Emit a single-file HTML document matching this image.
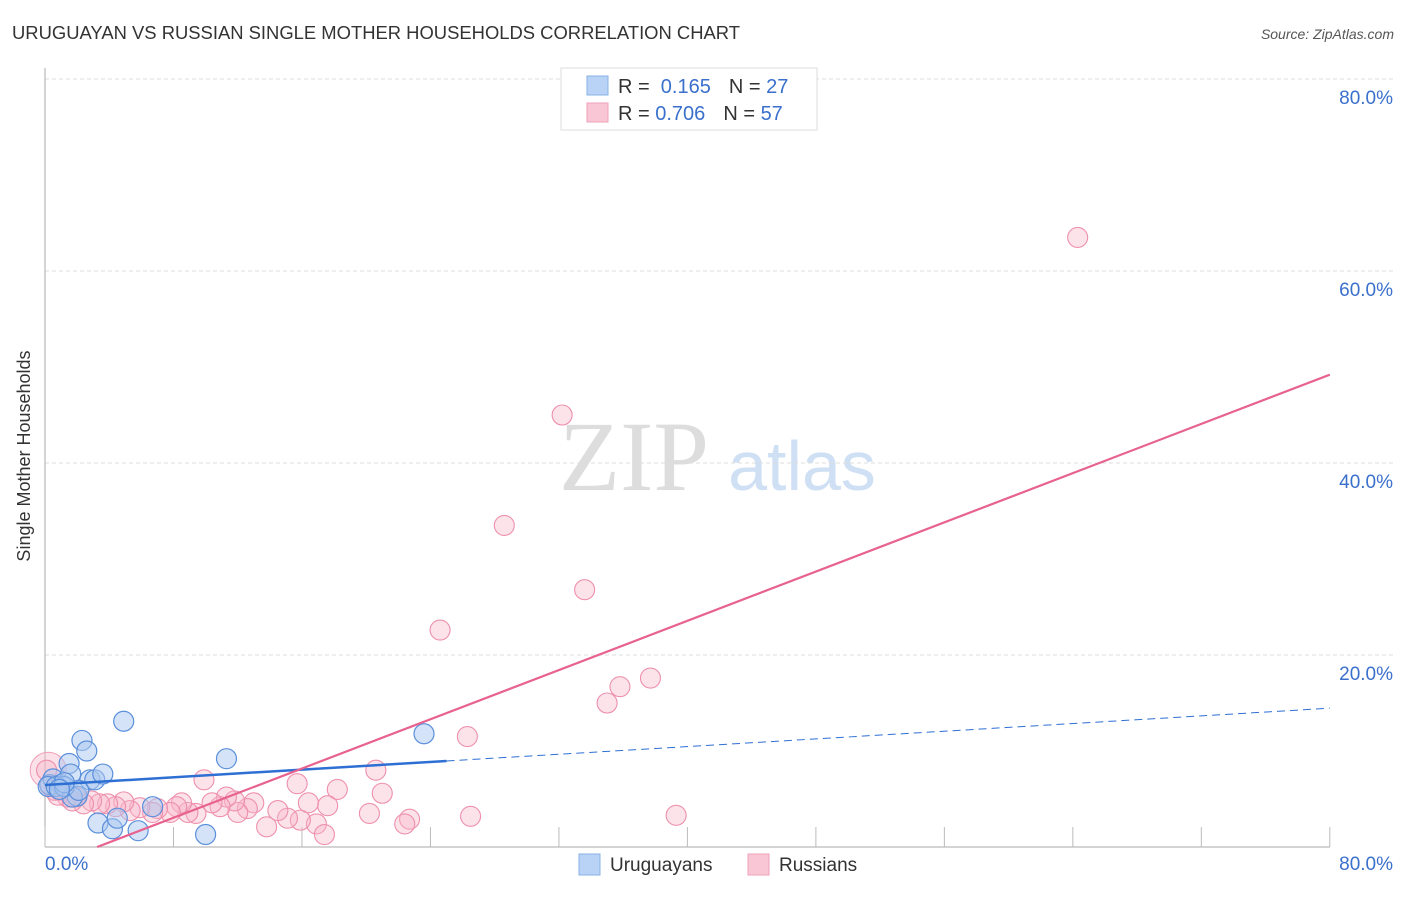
<!DOCTYPE html>
<html><head><meta charset="utf-8"><style>
body{margin:0;background:#fff;font-family:"Liberation Sans",sans-serif;}
</style></head><body>
<svg id="c" width="1406" height="892" style="font-family:'Liberation Sans',sans-serif">
<text x="12" y="39" font-size="18" fill="#333" textLength="728" lengthAdjust="spacingAndGlyphs">URUGUAYAN VS RUSSIAN SINGLE MOTHER HOUSEHOLDS CORRELATION CHART</text>
<text x="1394" y="39" font-size="14" fill="#555" font-style="italic" text-anchor="end">Source: ZipAtlas.com</text>
<text x="30" y="456" font-size="18" fill="#333" transform="rotate(-90 30 456)" text-anchor="middle">Single Mother Households</text>
<text x="634" y="490" font-size="100" fill="#ddd" style="font-family:'Liberation Serif',serif" text-anchor="middle">ZIP</text>
<text x="802" y="490" font-size="70" fill="#cfe0f5" text-anchor="middle">atlas</text>
<g id="grid"></g><g id="pts"></g><g id="lines"></g>
<g>
<rect x="561" y="68" width="256" height="62" fill="#fff" stroke="#ddd"/>
<rect x="587" y="76" width="21" height="19" fill="#b8d3f5" stroke="#8ab0e6"/>
<rect x="587" y="103" width="21" height="19" fill="#f9c6d5" stroke="#f0a0b8"/>
<text x="618" y="93" font-size="20" fill="#333">R = <tspan fill="#3a70cc">&#160;0.165</tspan><tspan dx="18">N = </tspan><tspan fill="#3a70cc">27</tspan></text>
<text x="618" y="120" font-size="20" fill="#333">R = <tspan fill="#3a70cc">0.706</tspan><tspan dx="18">N = </tspan><tspan fill="#3a70cc">57</tspan></text>
</g>
<g>
<rect x="579" y="854" width="21" height="21" fill="#b8d3f5" stroke="#8ab0e6"/>
<text x="610" y="871" font-size="19" fill="#333">Uruguayans</text>
<rect x="748" y="854" width="21" height="21" fill="#f9c6d5" stroke="#f0a0b8"/>
<text x="779" y="871" font-size="19" fill="#333">Russians</text>
</g>
</svg>
<script>
const xTicks=[0,8,16,24,32,40,48,56,64,72,80];
const yTicks=[20,40,60,80];
const uruX=[0.3,0.5,1.0,1.5,1.6,2.3,2.6,2.0,2.8,3.1,3.6,4.9,3.3,4.2,4.5,5.8,6.7,10.0,11.3,23.6,1.7,0.2,0.7,1.2,2.1,1.2,0.9];
const uruY=[6.5,7.1,6.5,8.7,7.6,11.1,10.0,5.3,7.0,7.0,7.6,13.1,2.5,1.9,3.0,1.7,4.2,1.3,9.2,11.8,5.2,6.3,6.3,6.3,5.9,6.7,6.0];
const rusX=[64.3,32.2,28.6,33.6,24.6,37.7,35.8,35.0,26.3,20.6,15.7,9.9,18.2,21.0,39.3,26.5,22.7,22.4,20.2,17.6,16.4,16.9,17.4,15.9,15.1,14.5,13.8,13.0,12.6,12.0,11.8,11.3,10.9,10.4,9.4,8.9,8.5,8.2,7.8,7.0,6.7,5.9,5.3,4.9,4.4,3.9,3.4,2.9,2.4,1.9,1.4,0.9,0.6,0.3,0.1,0.8,1.7];
const rusY=[63.5,45.0,33.5,26.8,22.6,17.6,16.7,15.0,11.5,8.0,6.6,7.0,6.0,5.6,3.3,3.2,2.9,2.4,3.5,4.3,4.6,2.4,1.3,2.8,3.0,3.8,2.1,4.6,4.0,3.6,4.8,5.2,4.2,4.6,3.5,3.6,4.6,4.2,3.6,4.0,3.6,4.1,3.8,4.7,4.2,4.5,4.5,4.8,4.5,5.2,5.2,5.9,5.9,6.4,8.0,5.4,4.8];
const blueLine=[6.46,0.1];const pinkLine=[-2.08,0.641];
const X=v=>45+v*16.06, Y=v=>847-v*9.6;
const NS="http://www.w3.org/2000/svg";
function mk(t,a,p){const e=document.createElementNS(NS,t);for(const k in a)e.setAttribute(k,a[k]);p.appendChild(e);return e;}
const g=document.getElementById('grid');
for(const t of yTicks){
const l=mk('line',{x1:45,x2:1394,y1:Y(t),y2:Y(t),stroke:'#ddd','stroke-dasharray':'4,3'},g);


const tx=mk('text',{x:1393,y:Y(t)+25,'font-size':19,fill:'#3a70cc','text-anchor':'end'},g);tx.textContent=t.toFixed(1)+'%';

}
mk('line',{x1:45,x2:45,y1:68,y2:847,stroke:'#aaa'},g);
mk('line',{x1:45,x2:1330,y1:847,y2:847,stroke:'#aaa'},g);
for(const t of xTicks){const l=mk('line',{x1:X(t),x2:X(t),y1:827,y2:847,stroke:'#bbb'},g);

}
const a=mk('text',{x:45,y:870,'font-size':19,fill:'#3a70cc'},g);a.textContent='0.0%';


const b=mk('text',{x:1393,y:870,'font-size':19,fill:'#3a70cc','text-anchor':'end'},g);b.textContent='80.0%';


const p=document.getElementById('pts');
mk('circle',{cx:X(0.2),cy:Y(8.0),r:18,fill:'#f7b5c8','fill-opacity':0.4,stroke:'#f0a0b8'},p);
rusX.forEach((x,i)=>{const c=mk('circle',{cx:X(x),cy:Y(rusY[i]),r:10,fill:'#f7b5c8','fill-opacity':0.38,stroke:'#ee8fad','stroke-width':1.1},p);

});
uruX.forEach((x,i)=>{const c=mk('circle',{cx:X(x),cy:Y(uruY[i]),r:10,fill:'#a9c8ef','fill-opacity':0.5,stroke:'#5b8fdb','stroke-width':1.2},p);

});
const L=document.getElementById('lines');
const f=(q,x)=>q[0]+q[1]*x;
const b1=mk('line',{x1:X(0),y1:Y(f(blueLine,0)),x2:X(25),y2:Y(f(blueLine,25)),stroke:'#2e6fd4','stroke-width':2.5},L);


const b2=mk('line',{x1:X(25),y1:Y(f(blueLine,25)),x2:X(80),y2:Y(f(blueLine,80)),stroke:'#2e6fd4','stroke-width':1,'stroke-dasharray':'8,5'},L);


const x0=-pinkLine[0]/pinkLine[1];
const p1=mk('line',{x1:X(x0),y1:Y(0),x2:X(80),y2:Y(f(pinkLine,80)),stroke:'#e8628f','stroke-width':2.2},L);


</script>
</body></html>
